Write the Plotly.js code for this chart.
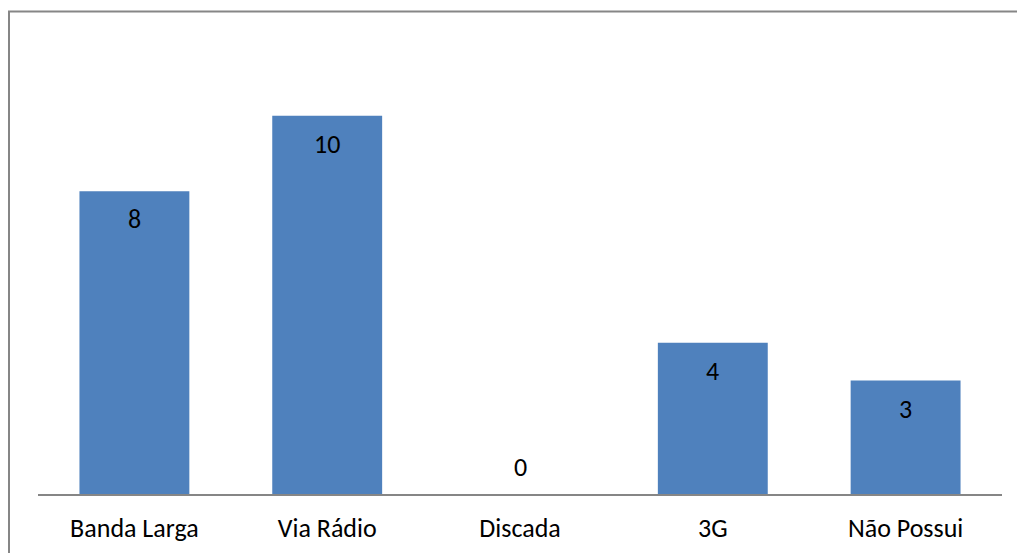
<!DOCTYPE html>
<html>
<head>
<meta charset="utf-8">
<script src="https://cdn.plot.ly/plotly-3.0.1.min.js"></script>
<style>
  html, body { margin: 0; padding: 0; background: #ffffff; }
  #chart { width: 1017px; height: 553px; }
</style>
</head>
<body>
<div id="chart"></div>
<script>
// Tipo de conexão à internet
const categories = ['Banda Larga', 'Via Rádio', 'Discada', '3G', 'Não Possui'];
const counts = [8, 10, 0, 4, 3];

const W = 1017, H = 553;
const margin = { l: 38, r: 15, t: 40, b: 59 };
const plotW = W - margin.l - margin.r;
const plotH = H - margin.t - margin.b;
// pixel -> paper helpers for the outer frame
const px = x => (x - margin.l) / plotW;
const py = y => (H - margin.b - y) / plotH;

const fontFamily = 'Carlito, Calibri, Lato, "Open Sans", sans-serif';
const fontSize = 26;
const frameColor = '#868686';

const bar = {
  type: 'bar',
  x: categories,
  y: counts,
  marker: { color: '#4F81BD', line: { width: 0 } },
  hoverinfo: 'x+y'
};

// value labels: inside the top of each bar, above the axis when zero
const labels = categories.map((c, i) => ({
  x: c,
  y: counts[i],
  xref: 'x',
  yref: 'y',
  text: String(counts[i]),
  showarrow: false,
  yanchor: 'middle',
  yshift: counts[i] > 0 ? -28 : 27,
  font: { family: fontFamily, size: fontSize, color: '#000000' }
}));

const layout = {
  width: W,
  height: H,
  margin: margin,
  paper_bgcolor: '#ffffff',
  plot_bgcolor: '#ffffff',
  showlegend: false,
  bargap: 0.43,
  font: { family: fontFamily, size: fontSize, color: '#000000' },
  xaxis: {
    type: 'category',
    showline: true,
    linecolor: frameColor,
    linewidth: 2,
    ticks: '',
    showgrid: false,
    zeroline: false,
    tickfont: { family: fontFamily, size: fontSize, color: '#000000' },
    ticklabelstandoff: 10
  },
  yaxis: {
    range: [0, 12],
    visible: false,
    showgrid: false,
    zeroline: false,
    fixedrange: true
  },
  annotations: labels,
  shapes: [
    { type: 'line', xref: 'paper', yref: 'paper', x0: px(9), x1: px(9), y0: py(H + 5), y1: py(11.5),
      line: { color: frameColor, width: 2 } },
    { type: 'line', xref: 'paper', yref: 'paper', x0: px(8), x1: px(W + 5), y0: py(11.5), y1: py(11.5),
      line: { color: frameColor, width: 2 } }
  ]
};

Plotly.newPlot('chart', [bar], layout, { displayModeBar: false, staticPlot: true });
</script>
</body>
</html>
